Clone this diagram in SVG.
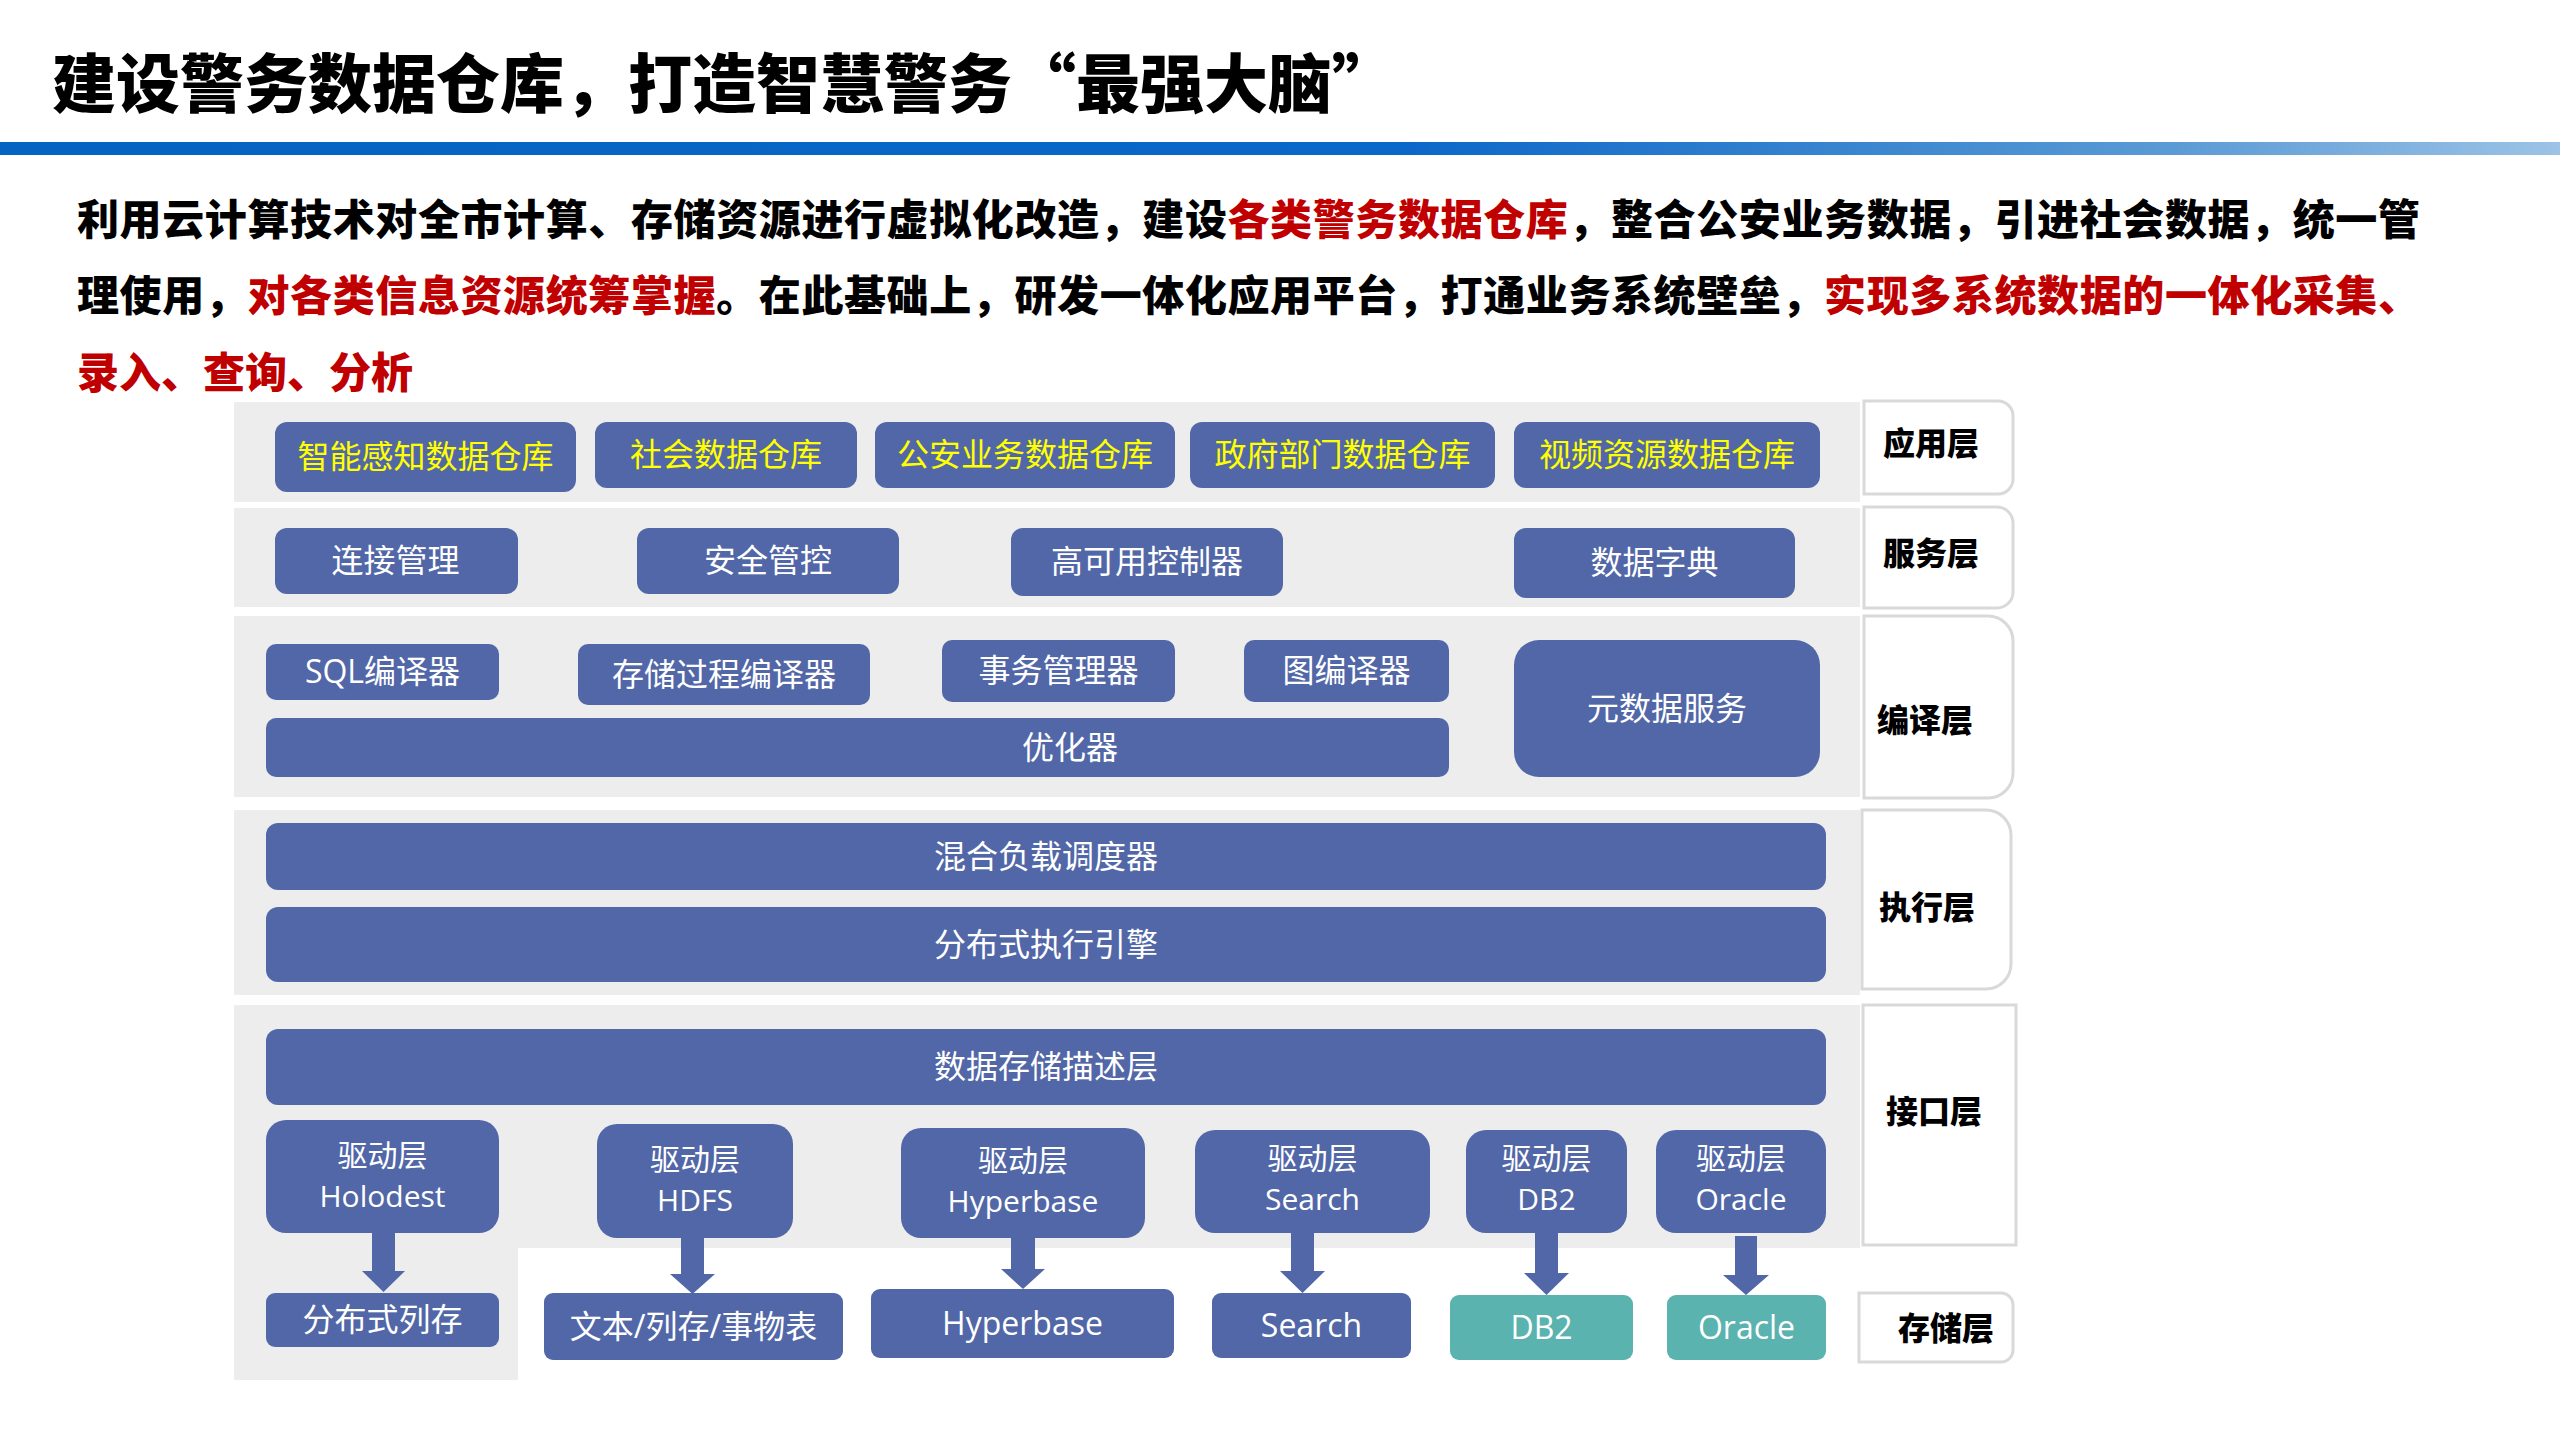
<svg xmlns="http://www.w3.org/2000/svg" width="2560" height="1440" viewBox="0 0 2560 1440">
<defs>
<linearGradient id="barGrad" x1="0" y1="0" x2="1" y2="0">
<stop offset="0" stop-color="#0563C1"/>
<stop offset="0.55" stop-color="#0B67C8"/>
<stop offset="0.85" stop-color="#5B9BD5"/>
<stop offset="1" stop-color="#9DC3E6"/>
</linearGradient>
<style>
.band{fill:#EDEDED;}
.box{fill:#5267A7;}
.teal{fill:#5AB3AF;}
.lbl{fill:#FFFFFF;stroke:#D9D9D9;stroke-width:3;}
.t{font-family:"Open Sans","Noto Sans CJK SC",sans-serif;font-size:32px;fill:#FFFFFF;text-anchor:middle;}
.t2{font-size:30px;}
.ty{fill:#FFFF00;}
.lt{font-family:"Noto Sans CJK SC",sans-serif;font-size:32px;font-weight:900;fill:#000000;text-anchor:middle;}
.title{font-family:"Noto Sans CJK SC",sans-serif;font-size:64px;font-weight:900;fill:#000000;}
.para{font-family:"Noto Sans CJK SC",sans-serif;font-size:42px;font-weight:900;fill:#000000;}
.red{fill:#C00000;}
.arr{fill:#5267A7;}
</style>
</defs>
<rect x="0" y="0" width="2560" height="1440" fill="#FFFFFF"/>

<g id="header">
<text class="title" x="52" y="107">建设警务数据仓库，打造智慧警务“最强大脑”</text>
<rect x="0" y="142" width="2560" height="13" fill="url(#barGrad)"/>
</g>

<g id="intro">
<text class="para" x="77" y="235" textLength="2343" lengthAdjust="spacing">利用云计算技术对全市计算、存储资源进行虚拟化改造，建设<tspan class="red">各类警务数据仓库</tspan>，整合公安业务数据，引进社会数据，统一管</text>
<text class="para" x="77" y="311" textLength="2343" lengthAdjust="spacing">理使用，<tspan class="red">对各类信息资源统筹掌握</tspan>。在此基础上，研发一体化应用平台，打通业务系统壁垒，<tspan class="red">实现多系统数据的一体化采集、</tspan></text>
<text class="para red" x="77" y="388">录入、查询、分析</text>
</g>

<g id="bands">
<rect class="band" x="234" y="402" width="1626" height="100"/>
<rect class="band" x="234" y="508" width="1626" height="99"/>
<rect class="band" x="234" y="616" width="1626" height="181"/>
<rect class="band" x="234" y="810" width="1626" height="185"/>
<path class="band" d="M234,1005 H1860 V1248 H518 V1380 H234 Z"/>
</g>

<g id="layer-labels">
<g id="lbl-app"><path class="lbl" d="M1864,401 H1998 A15,15 0 0 1 2013,416 V479 A15,15 0 0 1 1998,494 H1864 Z"/><text class="lt" x="1931" y="455">应用层</text></g>
<g id="lbl-svc"><path class="lbl" d="M1864,507 H1997 A16,16 0 0 1 2013,523 V592 A16,16 0 0 1 1997,608 H1864 Z"/><text class="lt" x="1931" y="565">服务层</text></g>
<g id="lbl-cmp"><path class="lbl" d="M1864,616 H1988 A25,25 0 0 1 2013,641 V773 A25,25 0 0 1 1988,798 H1864 Z"/><text class="lt" x="1925" y="732">编译层</text></g>
<g id="lbl-exe"><path class="lbl" d="M1862,810 H1986 A25,25 0 0 1 2011,835 V964 A25,25 0 0 1 1986,989 H1862 Z"/><text class="lt" x="1927" y="919">执行层</text></g>
<g id="lbl-itf"><rect class="lbl" x="1863" y="1005" width="153" height="240"/><text class="lt" x="1934" y="1123">接口层</text></g>
<g id="lbl-sto"><path class="lbl" d="M1859,1293 H2001 A12,12 0 0 1 2013,1305 V1350 A12,12 0 0 1 2001,1362 H1859 Z"/><text class="lt" x="1946" y="1340">存储层</text></g>
</g>

<g id="app-layer">
<g id="n-a1"><rect class="box" x="275" y="422" width="301" height="70" rx="12"/><text class="t ty" x="425.5" y="468">智能感知数据仓库</text></g>
<g id="n-a2"><rect class="box" x="595" y="422" width="262" height="66" rx="12"/><text class="t ty" x="726" y="466">社会数据仓库</text></g>
<g id="n-a3"><rect class="box" x="875" y="422" width="300" height="66" rx="12"/><text class="t ty" x="1025" y="466">公安业务数据仓库</text></g>
<g id="n-a4"><rect class="box" x="1190" y="422" width="305" height="66" rx="12"/><text class="t ty" x="1342.5" y="466">政府部门数据仓库</text></g>
<g id="n-a5"><rect class="box" x="1514" y="422" width="306" height="66" rx="12"/><text class="t ty" x="1667" y="466">视频资源数据仓库</text></g>
</g>

<g id="service-layer">
<g id="n-s1"><rect class="box" x="275" y="528" width="243" height="66" rx="12"/><text class="t" x="395.5" y="572">连接管理</text></g>
<g id="n-s2"><rect class="box" x="637" y="528" width="262" height="66" rx="12"/><text class="t" x="768" y="572">安全管控</text></g>
<g id="n-s3"><rect class="box" x="1011" y="528" width="272" height="68" rx="12"/><text class="t" x="1147" y="573">高可用控制器</text></g>
<g id="n-s4"><rect class="box" x="1514" y="528" width="281" height="70" rx="12"/><text class="t" x="1654.5" y="574">数据字典</text></g>
</g>

<g id="compile-layer">
<g id="n-c1"><rect class="box" x="266" y="644" width="233" height="56" rx="10"/><text class="t" x="382.5" y="683">SQL编译器</text></g>
<g id="n-c2"><rect class="box" x="578" y="644" width="292" height="61" rx="10"/><text class="t" x="724" y="686">存储过程编译器</text></g>
<g id="n-c3"><rect class="box" x="942" y="640" width="233" height="62" rx="10"/><text class="t" x="1058.5" y="682">事务管理器</text></g>
<g id="n-c4"><rect class="box" x="1244" y="640" width="205" height="62" rx="10"/><text class="t" x="1346.5" y="682">图编译器</text></g>
<g id="n-c5"><rect class="box" x="266" y="718" width="1183" height="59" rx="10"/><text class="t" x="1070" y="759">优化器</text></g>
<g id="n-c6"><rect class="box" x="1514" y="640" width="306" height="137" rx="25"/><text class="t" x="1667" y="720">元数据服务</text></g>
</g>

<g id="exec-layer">
<g id="n-e1"><rect class="box" x="266" y="823" width="1560" height="67" rx="12"/><text class="t" x="1046" y="868">混合负载调度器</text></g>
<g id="n-e2"><rect class="box" x="266" y="907" width="1560" height="75" rx="12"/><text class="t" x="1046" y="956">分布式执行引擎</text></g>
</g>

<g id="interface-layer">
<g id="n-i0"><rect class="box" x="266" y="1029" width="1560" height="76" rx="12"/><text class="t" x="1046" y="1078">数据存储描述层</text></g>
<g id="n-d1"><rect class="box" x="266" y="1120" width="233" height="113" rx="20"/><text class="t t2" x="382.5" y="1166">驱动层</text><text class="t t2" x="382.5" y="1207">Holodest</text></g>
<g id="n-d2"><rect class="box" x="597" y="1124" width="196" height="114" rx="20"/><text class="t t2" x="695" y="1170">驱动层</text><text class="t t2" x="695" y="1211">HDFS</text></g>
<g id="n-d3"><rect class="box" x="901" y="1128" width="244" height="110" rx="20"/><text class="t t2" x="1023" y="1171">驱动层</text><text class="t t2" x="1023" y="1212">Hyperbase</text></g>
<g id="n-d4"><rect class="box" x="1195" y="1130" width="235" height="103" rx="20"/><text class="t t2" x="1312.5" y="1169">驱动层</text><text class="t t2" x="1312.5" y="1210">Search</text></g>
<g id="n-d5"><rect class="box" x="1466" y="1130" width="161" height="103" rx="20"/><text class="t t2" x="1546.5" y="1169">驱动层</text><text class="t t2" x="1546.5" y="1210">DB2</text></g>
<g id="n-d6"><rect class="box" x="1656" y="1130" width="170" height="103" rx="20"/><text class="t t2" x="1741" y="1169">驱动层</text><text class="t t2" x="1741" y="1210">Oracle</text></g>
</g>

<g id="storage-layer">
<g id="n-st1"><rect class="box" x="266" y="1293" width="233" height="54" rx="9"/><text class="t" x="382.5" y="1331">分布式列存</text></g>
<g id="n-st2"><rect class="box" x="544" y="1293" width="299" height="67" rx="9"/><text class="t" x="693.5" y="1338">文本/列存/事物表</text></g>
<g id="n-st3"><rect class="box" x="871" y="1289" width="303" height="69" rx="9"/><text class="t" x="1022.5" y="1335">Hyperbase</text></g>
<g id="n-st4"><rect class="box" x="1212" y="1293" width="199" height="65" rx="9"/><text class="t" x="1311.5" y="1337">Search</text></g>
<g id="n-st5"><rect class="teal" x="1450" y="1295" width="183" height="65" rx="9"/><text class="t" x="1541.5" y="1339">DB2</text></g>
<g id="n-st6"><rect class="teal" x="1667" y="1295" width="159" height="65" rx="9"/><text class="t" x="1746.5" y="1339">Oracle</text></g>
</g>

<g id="connectors">
<polygon class="arr" points="372,1233 395,1233 395,1271 405,1271 383.5,1292 362,1271 372,1271"/>
<polygon class="arr" points="681,1238 704,1238 704,1274 715,1274 692.5,1294 670,1274 681,1274"/>
<polygon class="arr" points="1011,1238 1035,1238 1035,1269 1045,1269 1023,1289 1001,1269 1011,1269"/>
<polygon class="arr" points="1291,1233 1314,1233 1314,1271 1325,1271 1302.5,1293 1280,1271 1291,1271"/>
<polygon class="arr" points="1535,1233 1558,1233 1558,1273 1569,1273 1546.5,1295 1524,1273 1535,1273"/>
<polygon class="arr" points="1735,1236 1757,1236 1757,1275 1769,1275 1746,1295 1723,1275 1735,1275"/>
</g>
</svg>
